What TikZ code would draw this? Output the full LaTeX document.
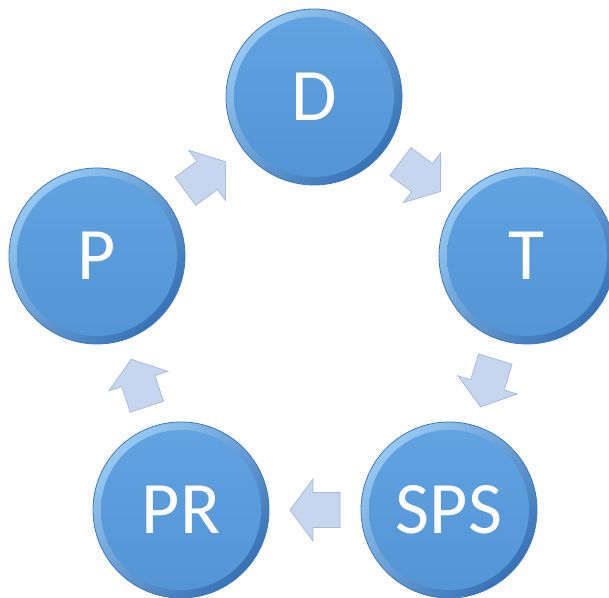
\documentclass[tikz,border=0pt]{standalone}
\usepackage{fontspec}
\setsansfont{Carlito}
\usetikzlibrary{calc}

\definecolor{ringlight}{RGB}{150,200,242}
\definecolor{ringdark}{RGB}{56,114,182}
\definecolor{disctop}{RGB}{98,164,226}
\definecolor{discbottom}{RGB}{82,148,212}
\definecolor{rimblue}{RGB}{62,120,184}
\definecolor{arrowfill}{RGB}{198,214,238}
\definecolor{arrowline}{RGB}{168,188,219}

\begin{document}
\begin{tikzpicture}[x=1pt, y=1pt,
  stage/.style={circle, minimum size=176pt, inner sep=0pt, draw=rimblue, line width=0.8pt,
    top color=ringlight, bottom color=ringdark, shading angle=45,
    path picture={\shade[top color=disctop, bottom color=discbottom]
      (path picture bounding box.center) circle (80pt);},
    text=white, font=\sffamily\fontsize{74}{74}\selectfont},
  cyclearrow/.style={fill=arrowfill, draw=arrowline, line width=0.8pt, line join=miter}]
  \useasboundingbox (0,0) rectangle (609,597);

  % the five stages of the cycle
  \node[stage] (d)   at (314,500) {D};
  \node[stage] (t)   at (527,341) {T};
  \node[stage] (sps) at (449,87)  {SPS};
  \node[stage] (pr)  at (181,87)  {PR};
  \node[stage] (p)   at (97,341)  {P};

  % block arrows half way between neighbours
  \foreach \a/\b in {d/t, t/sps, sps/pr, pr/p, p/d}{
    \pgfmathanglebetweenpoints{\pgfpointanchor{\a}{center}}{\pgfpointanchor{\b}{center}}
    \let\ang\pgfmathresult
    \begin{scope}[shift={($(\a)!0.5!(\b)$)}, rotate=\ang]
      \draw[cyclearrow] (-25,-17.5) -- (2,-17.5) -- (2,-31) -- (25,0)
        -- (2,31) -- (2,17.5) -- (-25,17.5) -- cycle;
    \end{scope}
  }
\end{tikzpicture}
\end{document}
